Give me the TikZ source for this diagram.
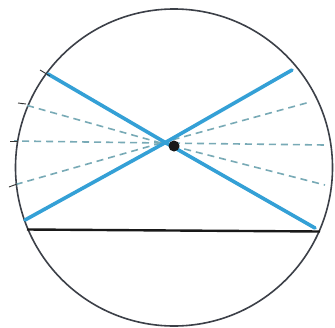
\documentclass[tikz,border=0pt]{standalone}
\begin{document}
\begin{tikzpicture}[x=1pt,y=-1pt,
  ray/.style={draw=rayblue,line width=3.6pt,line cap=round},
  dray/.style={draw=dashteal,line width=1.6pt,dash pattern=on 7pt off 5pt},
  tickmark/.style={draw=black!80,line width=0.9pt}]
\definecolor{rayblue}{RGB}{52,160,214}
\definecolor{dashteal}{RGB}{120,170,182}
\definecolor{rim}{RGB}{60,64,72}
\useasboundingbox (0,0) rectangle (335,327);
\fill[white] (0,0) rectangle (335,327);
\draw[rim,line width=1.6pt] (174,167.5) circle (158.5);
% points
\coordinate (x) at (161,143);
\coordinate (xa) at (161,140);
\coordinate (xb) at (161,145);
\coordinate (ul) at (48,74);
\coordinate (ll) at (25,220);
\coordinate (ur) at (292,70);
\coordinate (lr) at (315,228);
\coordinate (d1) at (22,104);
\coordinate (d2) at (14,141);
\coordinate (d3) at (14,185);
\coordinate (e1) at (310,102);
\coordinate (e2) at (325,145);
\coordinate (e3) at (325,185);
% horizontal chord
\draw[black!90,line width=2.4pt] (27,229.5) -- (320,231.5);
% dashed rays
\draw[dray] (x) -- (d1);
\draw[dray] (x) -- (d2);
\draw[dray] (x) -- (d3);
\draw[dray] (x) -- (e1);
\draw[dray] (x) -- (e2);
\draw[dray] (x) -- (e3);
% solid rays
\draw[ray] (ul) -- (xa) -- (lr);
\draw[ray] (ll) -- (xb) -- (ur);
% ticks
\draw[tickmark] (40,70) -- (50,76);
\draw[tickmark] (18,103) -- (26,104);
\draw[tickmark] (10,141) -- (18,141);
\draw[tickmark] (9,187) -- (17,184);
% center dot
\node[circle,fill=black!90,inner sep=0pt,minimum size=11pt] (c) at (174,146) {};
\end{tikzpicture}
\end{document}
